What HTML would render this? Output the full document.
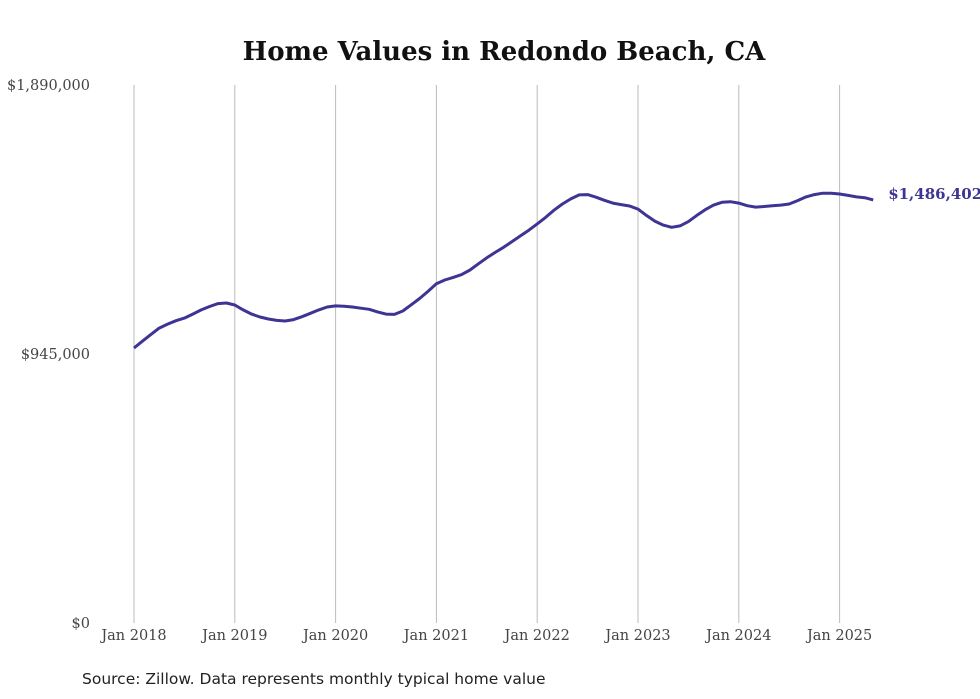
<!DOCTYPE html>
<html><head><meta charset="utf-8"><style>
html,body{margin:0;padding:0;background:#fff;width:980px;height:699px;overflow:hidden}
svg{display:block}
</style></head><body>
<svg width="980" height="699" xmlns="http://www.w3.org/2000/svg">
<text x="504" y="60" text-anchor="middle" font-family="DejaVu Serif, serif" font-weight="bold" font-size="26" fill="#111">Home Values in Redondo Beach, CA</text>
<g id="grid"></g><g id="yax"></g><g id="xax"></g>
<path id="line" fill="none" stroke="#3d3493" stroke-width="3" stroke-linejoin="round"/>
<text id="endlabel" font-family="DejaVu Serif, serif" font-weight="bold" font-size="15" fill="#3d3493"></text>
<text x="82" y="684" font-family="DejaVu Sans, sans-serif" font-size="15.5" fill="#222">Source: Zillow. Data represents monthly typical home value</text>
</svg>
<script>
const yTicks=[0,945000,1890000];
const yTickLabels=["$0","$945,000","$1,890,000"];
const xTickYears=[2018,2019,2020,2021,2022,2023,2024,2025];
const startYear=2018;
const values=[966,990,1013,1036,1050,1062,1071,1085,1100,1112,1122,1124,
1117,1100,1085,1075,1068,1063,1061,1066,1076,1088,1100,1110,
1114,1113,1110,1106,1102,1093,1085,1084,1096,1118,1140,1165,
1192,1205,1214,1224,1240,1262,1283,1302,1320,1340,1360,1380,
1402,1425,1450,1472,1490,1504,1505,1496,1485,1475,1470,1465,
1454,1432,1412,1398,1390,1395,1410,1432,1452,1468,1478,1480,
1475,1466,1461,1463,1466,1468,1472,1484,1497,1505,1510,1510,
1507,1502,1497,1494,1486.402].map(v=>v*1000);
const lastLabel="$1,486,402";
const ns="http://www.w3.org/2000/svg";
const X=m=>134+m*(100.8/12);
const Y=v=>623-v/1890000*538;
const grid=document.getElementById('grid'),yax=document.getElementById('yax'),xax=document.getElementById('xax');
xTickYears.forEach(yr=>{
 const x=X((yr-startYear)*12);
 const l=document.createElementNS(ns,'line');
 
 
 l.setAttribute('x1',x);l.setAttribute('x2',x);l.setAttribute('y1',85);l.setAttribute('y2',623);
 l.setAttribute('stroke','#bbb');l.setAttribute('stroke-width','1');grid.appendChild(l);
 const t=document.createElementNS(ns,'text');
 
 
 t.setAttribute('x',x);t.setAttribute('y',640);t.setAttribute('text-anchor','middle');
 t.setAttribute('font-family','DejaVu Serif, serif');t.setAttribute('font-size','14.5');t.setAttribute('fill','#444');
 t.textContent='Jan '+yr;xax.appendChild(t);
});
yTicks.forEach((v,i)=>{
 const t=document.createElementNS(ns,'text');
 
 
 t.setAttribute('x',90);t.setAttribute('y',Y(v)+5);t.setAttribute('text-anchor','end');
 t.setAttribute('font-family','DejaVu Serif, serif');t.setAttribute('font-size','14.5');t.setAttribute('fill','#444');
 t.textContent=yTickLabels[i];yax.appendChild(t);
});
let d='';values.forEach((v,i)=>{d+=(i?'L':'M')+X(i).toFixed(1)+','+Y(v).toFixed(1);});
document.getElementById('line').setAttribute('d',d);
const el=document.getElementById('endlabel');
const li=values.length-1;
el.setAttribute('x',X(li)+15);el.setAttribute('y',Y(values[li])-1);el.textContent=lastLabel;
</script>
</body></html>
